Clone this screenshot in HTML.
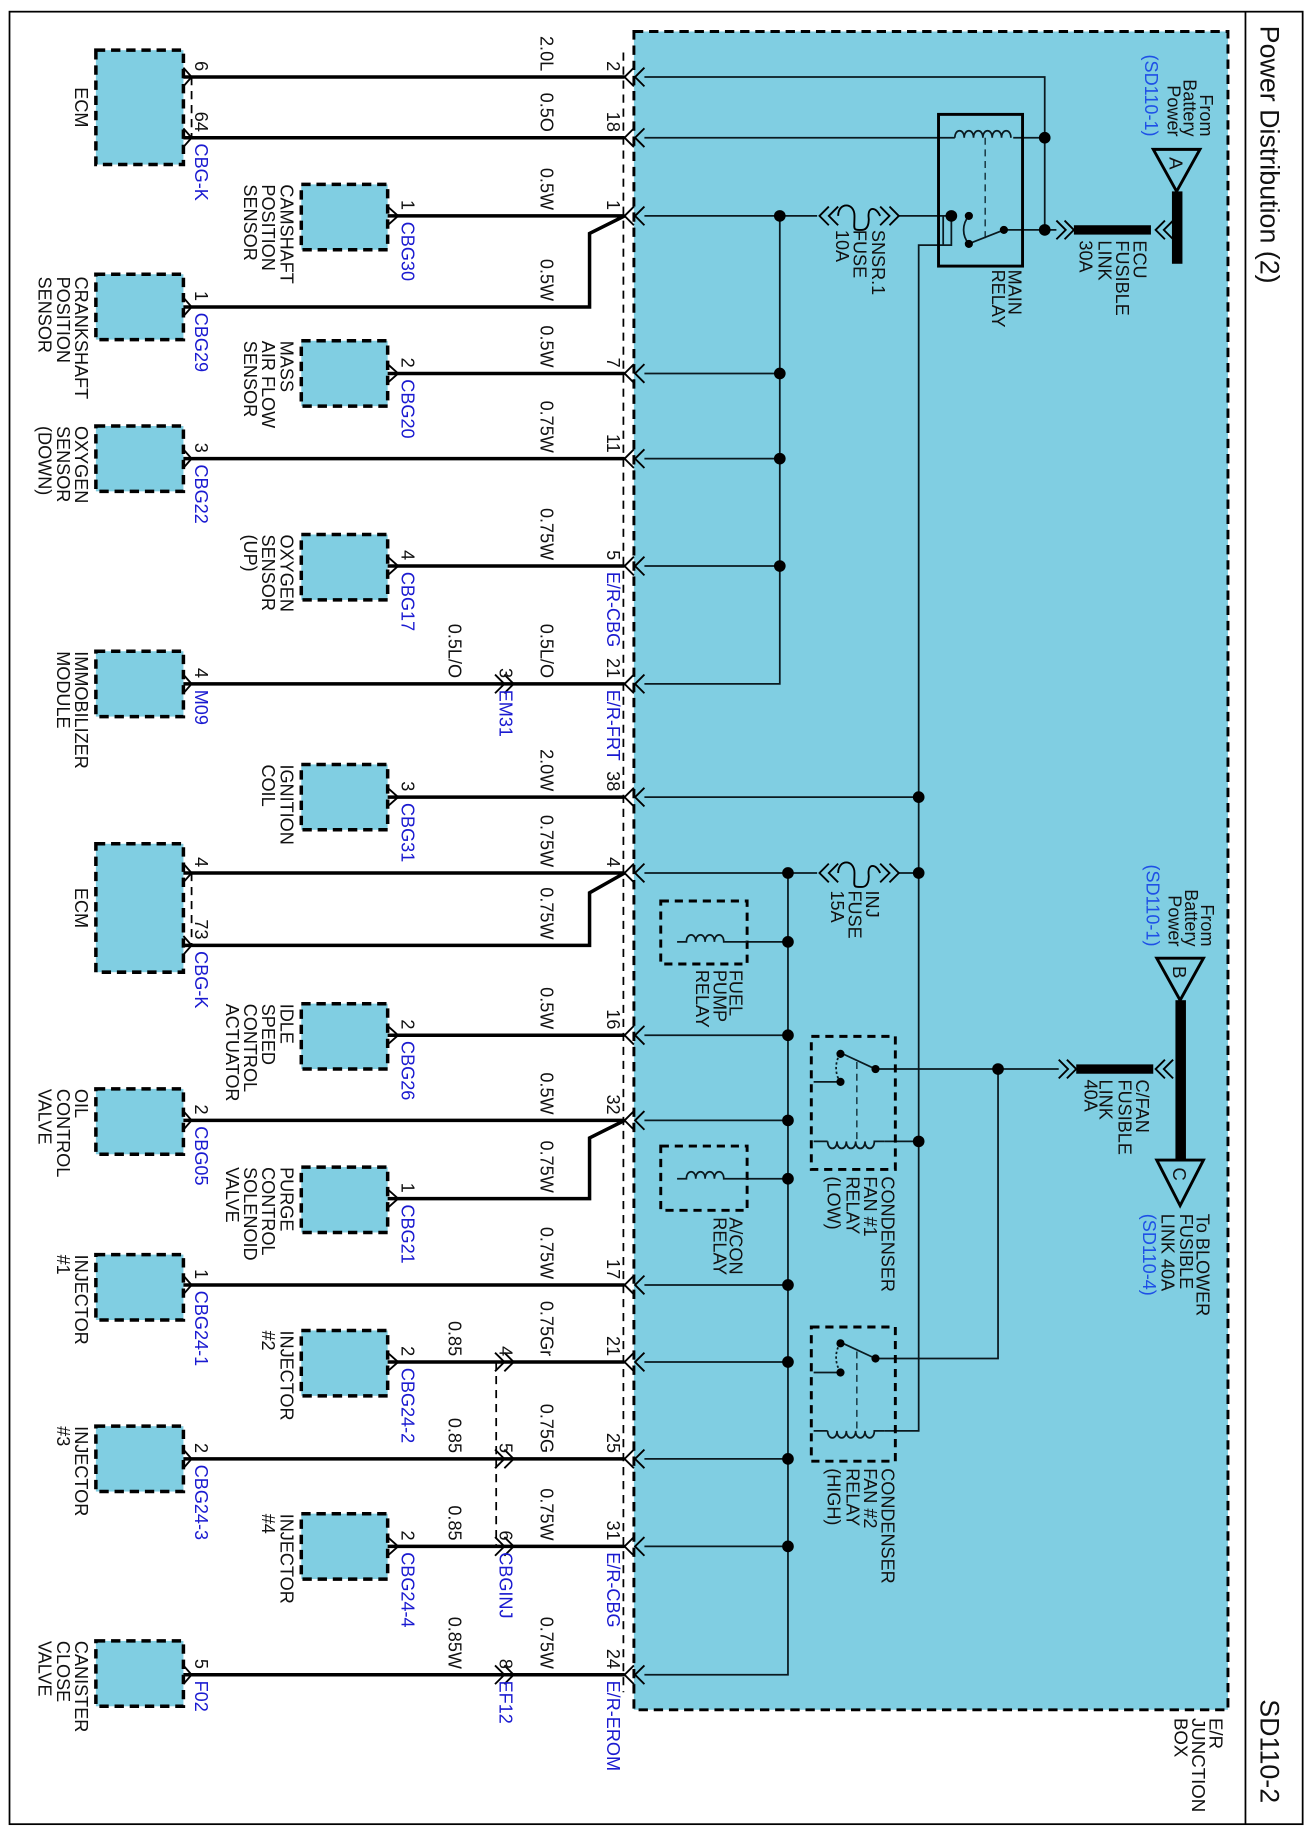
<!DOCTYPE html>
<html><head><meta charset="utf-8"><style>
html,body{margin:0;padding:0;background:#fff}
svg{display:block}
text{font-family:"Liberation Sans",Arial,sans-serif;font-size:15.5px;fill:#111}
.b{fill:#1a1ad0}
.lb{fill:#1e50e6}
.e{text-anchor:end}
.L{font-size:16px}
.w{stroke:#000;stroke-width:3;fill:none}
.n{stroke:#0a1a20;stroke-width:1.5;fill:none}
.db{fill:#80cee2;stroke:#000;stroke-width:3;stroke-dasharray:8 5}
.dr{fill:none;stroke:#000;stroke-width:2.5;stroke-dasharray:7 5}
.ch{stroke:#000;stroke-width:1.6;fill:none}
</style></head><body>
<svg width="1311" height="1830" viewBox="0 0 1123 1568" xmlns="http://www.w3.org/2000/svg">
<rect x="0" y="0" width="1123" height="1568" fill="#fff"/>
<!-- frame -->
<rect x="8" y="10" width="1108" height="1553" fill="none" stroke="#000" stroke-width="1.5"/>
<line x1="1067" y1="10" x2="1067" y2="1563" stroke="#000" stroke-width="1.5"/>
<text transform="translate(1080 22) rotate(90)" style="font-size:23px">Power Distribution (2)</text>
<text transform="translate(1080 1545) rotate(90)" class="e" style="font-size:23px">SD110-2</text>

<!-- junction box -->
<rect x="543" y="27" width="509" height="1438" fill="#80cee2" stroke="#000" stroke-width="2.5" stroke-dasharray="8 5"/>
<text transform="translate(1036 1472) rotate(90)" class="L">E/R</text>
<text transform="translate(1021 1472) rotate(90)" class="L">JUNCTION</text>
<text transform="translate(1006 1472) rotate(90)" class="L">BOX</text>

<!-- housing dashed lines -->
<g stroke="#000" stroke-width="1.5" stroke-dasharray="7 5" fill="none">
<line x1="534" y1="45" x2="534" y2="1450"/>
<line x1="164" y1="66" x2="164" y2="118"/>
<line x1="164" y1="748" x2="164" y2="810"/>
<line x1="425" y1="1167" x2="425" y2="1325"/>
</g>

<!-- left boxes -->
<g class="db">
<rect x="82" y="43" width="75" height="98"/>
<rect x="82" y="235" width="75" height="56"/>
<rect x="82" y="365" width="75" height="56"/>
<rect x="82" y="558" width="75" height="56"/>
<rect x="82" y="723" width="75" height="110"/>
<rect x="82" y="933" width="75" height="56"/>
<rect x="82" y="1075" width="75" height="56"/>
<rect x="82" y="1222" width="75" height="56"/>
<rect x="82" y="1406" width="75" height="56"/>
<rect x="258" y="158" width="74" height="56"/>
<rect x="258" y="292" width="74" height="56"/>
<rect x="258" y="458" width="74" height="56"/>
<rect x="258" y="655" width="74" height="56"/>
<rect x="258" y="860" width="74" height="56"/>
<rect x="258" y="1000" width="74" height="56"/>
<rect x="258" y="1140" width="74" height="56"/>
<rect x="258" y="1297" width="74" height="56"/>
</g>

<!-- component labels -->
<g class="L">
<text transform="translate(64 92) rotate(90)" text-anchor="middle">ECM</text>
<text transform="translate(64 778) rotate(90)" text-anchor="middle">ECM</text>
<text transform="translate(240 158) rotate(90)">CAMSHAFT</text>
<text transform="translate(224.5 158) rotate(90)">POSITION</text>
<text transform="translate(209 158) rotate(90)">SENSOR</text>
<text transform="translate(64 237) rotate(90)">CRANKSHAFT</text>
<text transform="translate(48.5 237) rotate(90)">POSITION</text>
<text transform="translate(33 237) rotate(90)">SENSOR</text>
<text transform="translate(240 292) rotate(90)">MASS</text>
<text transform="translate(224.5 292) rotate(90)">AIR FLOW</text>
<text transform="translate(209 292) rotate(90)">SENSOR</text>
<text transform="translate(64 365) rotate(90)">OXYGEN</text>
<text transform="translate(48.5 365) rotate(90)">SENSOR</text>
<text transform="translate(33 365) rotate(90)">(DOWN)</text>
<text transform="translate(240 458) rotate(90)">OXYGEN</text>
<text transform="translate(224.5 458) rotate(90)">SENSOR</text>
<text transform="translate(209 458) rotate(90)">(UP)</text>
<text transform="translate(64 558) rotate(90)">IMMOBILIZER</text>
<text transform="translate(48.5 558) rotate(90)">MODULE</text>
<text transform="translate(240 655) rotate(90)">IGNITION</text>
<text transform="translate(224.5 655) rotate(90)">COIL</text>
<text transform="translate(240 860) rotate(90)">IDLE</text>
<text transform="translate(224.5 860) rotate(90)">SPEED</text>
<text transform="translate(209 860) rotate(90)">CONTROL</text>
<text transform="translate(193.5 860) rotate(90)">ACTUATOR</text>
<text transform="translate(64 933) rotate(90)">OIL</text>
<text transform="translate(48.5 933) rotate(90)">CONTROL</text>
<text transform="translate(33 933) rotate(90)">VALVE</text>
<text transform="translate(240 1000) rotate(90)">PURGE</text>
<text transform="translate(224.5 1000) rotate(90)">CONTROL</text>
<text transform="translate(209 1000) rotate(90)">SOLENOID</text>
<text transform="translate(193.5 1000) rotate(90)">VALVE</text>
<text transform="translate(64 1075) rotate(90)">INJECTOR</text>
<text transform="translate(48.5 1075) rotate(90)">#1</text>
<text transform="translate(240 1140) rotate(90)">INJECTOR</text>
<text transform="translate(224.5 1140) rotate(90)">#2</text>
<text transform="translate(64 1222) rotate(90)">INJECTOR</text>
<text transform="translate(48.5 1222) rotate(90)">#3</text>
<text transform="translate(240 1297) rotate(90)">INJECTOR</text>
<text transform="translate(224.5 1297) rotate(90)">#4</text>
<text transform="translate(64 1406) rotate(90)">CANISTER</text>
<text transform="translate(48.5 1406) rotate(90)">CLOSE</text>
<text transform="translate(33 1406) rotate(90)">VALVE</text>
</g>

<!-- external wires -->
<g class="w">
<path d="M157 66H535M157 118H535M332 185H535M157 263H505V200L535 185M332 320H535M157 393H535M332 485H535M157 586H535M332 683H535M157 748H535M157 810H505V765L535 748M332 887H535M157 960H535M332 1027H505V975L535 960M157 1101H535M332 1167H535M157 1250H535M332 1325H535M157 1435H535"/>
</g>
<!-- chevrons -->
<g class="ch">
<path d="M157 58L164 66L157 74M157 110L164 118L157 126M157 255L164 263L157 271M157 385L164 393L157 401M157 578L164 586L157 594M157 740L164 748L157 756M157 802L164 810L157 818M157 952L164 960L157 968M157 1093L164 1101L157 1109M157 1242L164 1250L157 1258M157 1427L164 1435L157 1443"/>
<path d="M332 177L341 185L332 193M332 312L341 320L332 328M332 477L341 485L332 493M332 675L341 683L332 691M332 879L341 887L332 895M332 1019L341 1027L332 1035M332 1159L341 1167L332 1175M332 1317L341 1325L332 1333"/>
<path d="M424 578L432 586L424 594M432 578L440 586L432 594M424 1159L432 1167L424 1175M432 1159L440 1167L432 1175M424 1242L432 1250L424 1258M432 1242L440 1250L432 1258M424 1317L432 1325L424 1333M432 1317L440 1325L432 1333M424 1427L432 1435L424 1443M432 1427L440 1435L432 1443"/>
</g>
<g class="ch">
<path id="jc" d="M543 58L535 66L543 74M552 58L544 66L552 74"/>
<use href="#jc" y="52"/><use href="#jc" y="119"/><use href="#jc" y="254"/><use href="#jc" y="327"/><use href="#jc" y="419"/><use href="#jc" y="520"/><use href="#jc" y="617"/><use href="#jc" y="682"/><use href="#jc" y="821"/><use href="#jc" y="894"/><use href="#jc" y="1035"/><use href="#jc" y="1101"/><use href="#jc" y="1184"/><use href="#jc" y="1259"/><use href="#jc" y="1369"/>
</g>

<!-- pin numbers / connectors left boxes -->
<g>
<text class="e" transform="translate(167 61) rotate(90)">6</text>
<text class="e" transform="translate(167 113) rotate(90)">64</text>
<text class="b" transform="translate(167 123) rotate(90)">CBG-K</text>
<text class="e" transform="translate(167 258) rotate(90)">1</text>
<text class="b" transform="translate(167 268) rotate(90)">CBG29</text>
<text class="e" transform="translate(167 388) rotate(90)">3</text>
<text class="b" transform="translate(167 398) rotate(90)">CBG22</text>
<text class="e" transform="translate(167 581) rotate(90)">4</text>
<text class="b" transform="translate(167 591) rotate(90)">M09</text>
<text class="e" transform="translate(167 743) rotate(90)">4</text>
<text class="e" transform="translate(167 805) rotate(90)">73</text>
<text class="b" transform="translate(167 815) rotate(90)">CBG-K</text>
<text class="e" transform="translate(167 955) rotate(90)">2</text>
<text class="b" transform="translate(167 965) rotate(90)">CBG05</text>
<text class="e" transform="translate(167 1096) rotate(90)">1</text>
<text class="b" transform="translate(167 1106) rotate(90)">CBG24-1</text>
<text class="e" transform="translate(167 1245) rotate(90)">2</text>
<text class="b" transform="translate(167 1255) rotate(90)">CBG24-3</text>
<text class="e" transform="translate(167 1430) rotate(90)">5</text>
<text class="b" transform="translate(167 1440) rotate(90)">F02</text>

<text class="e" transform="translate(344 180) rotate(90)">1</text>
<text class="b" transform="translate(344 190) rotate(90)">CBG30</text>
<text class="e" transform="translate(344 315) rotate(90)">2</text>
<text class="b" transform="translate(344 325) rotate(90)">CBG20</text>
<text class="e" transform="translate(344 480) rotate(90)">4</text>
<text class="b" transform="translate(344 490) rotate(90)">CBG17</text>
<text class="e" transform="translate(344 678) rotate(90)">3</text>
<text class="b" transform="translate(344 688) rotate(90)">CBG31</text>
<text class="e" transform="translate(344 882) rotate(90)">2</text>
<text class="b" transform="translate(344 892) rotate(90)">CBG26</text>
<text class="e" transform="translate(344 1022) rotate(90)">1</text>
<text class="b" transform="translate(344 1032) rotate(90)">CBG21</text>
<text class="e" transform="translate(344 1162) rotate(90)">2</text>
<text class="b" transform="translate(344 1172) rotate(90)">CBG24-2</text>
<text class="e" transform="translate(344 1320) rotate(90)">2</text>
<text class="b" transform="translate(344 1330) rotate(90)">CBG24-4</text>

<!-- gauges -->
<text class="e" transform="translate(463 61) rotate(90)">2.0L</text>
<text class="e" transform="translate(463 113) rotate(90)">0.5O</text>
<text class="e" transform="translate(463 180) rotate(90)">0.5W</text>
<text class="e" transform="translate(463 258) rotate(90)">0.5W</text>
<text class="e" transform="translate(463 315) rotate(90)">0.5W</text>
<text class="e" transform="translate(463 388) rotate(90)">0.75W</text>
<text class="e" transform="translate(463 480) rotate(90)">0.75W</text>
<text class="e" transform="translate(463 581) rotate(90)">0.5L/O</text>
<text class="e" transform="translate(463 678) rotate(90)">2.0W</text>
<text class="e" transform="translate(463 743) rotate(90)">0.75W</text>
<text class="e" transform="translate(463 805) rotate(90)">0.75W</text>
<text class="e" transform="translate(463 882) rotate(90)">0.5W</text>
<text class="e" transform="translate(463 955) rotate(90)">0.5W</text>
<text class="e" transform="translate(463 1022) rotate(90)">0.75W</text>
<text class="e" transform="translate(463 1096) rotate(90)">0.75W</text>
<text class="e" transform="translate(463 1162) rotate(90)">0.75Gr</text>
<text class="e" transform="translate(463 1245) rotate(90)">0.75G</text>
<text class="e" transform="translate(463 1320) rotate(90)">0.75W</text>
<text class="e" transform="translate(463 1430) rotate(90)">0.75W</text>
<text class="e" transform="translate(384 581) rotate(90)">0.5L/O</text>
<text class="e" transform="translate(384 1162) rotate(90)">0.85</text>
<text class="e" transform="translate(384 1245) rotate(90)">0.85</text>
<text class="e" transform="translate(384 1320) rotate(90)">0.85</text>
<text class="e" transform="translate(384 1430) rotate(90)">0.85W</text>
<!-- inline -->
<text class="e" transform="translate(428 581) rotate(90)">3</text>
<text class="b" transform="translate(428 591) rotate(90)">EM31</text>
<text class="e" transform="translate(428 1162) rotate(90)">4</text>
<text class="e" transform="translate(428 1245) rotate(90)">5</text>
<text class="e" transform="translate(428 1320) rotate(90)">6</text>
<text class="b" transform="translate(428 1330) rotate(90)">CBGINJ</text>
<text class="e" transform="translate(428 1430) rotate(90)">8</text>
<text class="b" transform="translate(428 1440) rotate(90)">EF12</text>
<!-- junction pins -->
<text class="e" transform="translate(520 61) rotate(90)">2</text>
<text class="e" transform="translate(520 113) rotate(90)">18</text>
<text class="e" transform="translate(520 180) rotate(90)">1</text>
<text class="e" transform="translate(520 315) rotate(90)">7</text>
<text class="e" transform="translate(520 388) rotate(90)">11</text>
<text class="e" transform="translate(520 480) rotate(90)">5</text>
<text class="b" transform="translate(520 490) rotate(90)">E/R-CBG</text>
<text class="e" transform="translate(520 581) rotate(90)">21</text>
<text class="b" transform="translate(520 591) rotate(90)">E/R-FRT</text>
<text class="e" transform="translate(520 678) rotate(90)">38</text>
<text class="e" transform="translate(520 743) rotate(90)">4</text>
<text class="e" transform="translate(520 882) rotate(90)">16</text>
<text class="e" transform="translate(520 955) rotate(90)">32</text>
<text class="e" transform="translate(520 1096) rotate(90)">17</text>
<text class="e" transform="translate(520 1162) rotate(90)">21</text>
<text class="e" transform="translate(520 1245) rotate(90)">25</text>
<text class="e" transform="translate(520 1320) rotate(90)">31</text>
<text class="b" transform="translate(520 1330) rotate(90)">E/R-CBG</text>
<text class="e" transform="translate(520 1430) rotate(90)">24</text>
<text class="b" transform="translate(520 1440) rotate(90)">E/R-EROM</text>
</g>

<!-- internal wiring -->
<g class="n">
<path d="M552 66H895V197M552 118H818M868 118H895"/>
<path d="M552 185H700M770 185H815M552 320H668M552 393H668M552 485H668M552 586H668V185"/>
<path d="M815 185V210H787V1226H758"/>
<path d="M552 683H787M552 748H700M770 748H787M675 748V1435H552"/>
<path d="M552 887H675M552 960H675M552 1101H675M552 1167H675M552 1250H675M552 1325H675"/>
<path d="M640 807H675M640 1010H675"/>
<path d="M860 197H905M750 916H907M855 916V1164H750M758 978H787M697 927H720M697 1176H720M697 978H709M697 1226H709"/>
<path d="M808 210V185"/>
</g>
<!-- fuses -->
<g class="ch">
<path d="M710 177L702 185L710 193M718 177L710 185L718 193M762 177L770 185L762 193M754 177L762 185L754 193"/>
<path d="M718 185c0-12 14-12 14 0s-2 12 6 12 6-12 6-12c0-8 6-8 10 0"/>
<path d="M710 740L702 748L710 756M718 740L710 748L718 756M762 740L770 748L762 756M754 740L762 748L754 756"/>
<path d="M718 748c0-12 14-12 14 0s-2 12 6 12 6-12 6-12c0-8 6-8 10 0"/>
<path d="M905 189L913 197L905 205M912 189L920 197L912 205M998 189L990 197L998 205M1005 189L997 197L1005 205"/>
<path d="M907 908L915 916L907 924M914 908L922 916L914 924M998 908L990 916L998 924M1005 908L997 916L1005 924"/>
</g>
<!-- fusible links -->
<g fill="#000">
<rect x="920" y="193" width="66" height="8"/>
<rect x="922" y="912" width="66" height="8"/>
<rect x="1004" y="164" width="9" height="62"/>
<rect x="1007" y="857" width="9" height="138"/>
</g>
<g fill="none" stroke="#000" stroke-width="2.5">
<path d="M988 128H1028L1008 164Z"/>
<path d="M991 821H1031L1011 857Z"/>
<path d="M991 994H1031L1011 1033Z"/>
</g>
<text transform="translate(1002 140) rotate(90)" text-anchor="middle" class="L">A</text>
<text transform="translate(1005 833) rotate(90)" text-anchor="middle" class="L">B</text>
<text transform="translate(1005 1006) rotate(90)" text-anchor="middle" class="L">C</text>
<g class="L">
<text class="e" transform="translate(1028 117) rotate(90)">From</text>
<text class="e" transform="translate(1014 117) rotate(90)">Battery</text>
<text class="e" transform="translate(1000 117) rotate(90)">Power</text>
<text class="e lb" transform="translate(981 117) rotate(90)">(SD110-1)</text>
<text class="e" transform="translate(1029 811) rotate(90)">From</text>
<text class="e" transform="translate(1015 811) rotate(90)">Battery</text>
<text class="e" transform="translate(1001 811) rotate(90)">Power</text>
<text class="e lb" transform="translate(982 811) rotate(90)">(SD110-1)</text>
<text transform="translate(1025 1040) rotate(90)">To BLOWER</text>
<text transform="translate(1011 1040) rotate(90)">FUSIBLE</text>
<text transform="translate(995 1040) rotate(90)">LINK 40A</text>
<text class="lb" transform="translate(979 1040) rotate(90)">(SD110-4)</text>
<text transform="translate(971 206) rotate(90)">ECU</text>
<text transform="translate(956 206) rotate(90)">FUSIBLE</text>
<text transform="translate(941 206) rotate(90)">LINK</text>
<text transform="translate(925 206) rotate(90)">30A</text>
<text transform="translate(973 925) rotate(90)">C/FAN</text>
<text transform="translate(958 925) rotate(90)">FUSIBLE</text>
<text transform="translate(942 925) rotate(90)">LINK</text>
<text transform="translate(929 925) rotate(90)">40A</text>
<text transform="translate(747 197) rotate(90)">SNSR.1</text>
<text transform="translate(731 197) rotate(90)">FUSE</text>
<text transform="translate(716 197) rotate(90)">10A</text>
<text transform="translate(742 763) rotate(90)">INJ</text>
<text transform="translate(727 763) rotate(90)">FUSE</text>
<text transform="translate(712 763) rotate(90)">15A</text>
<text transform="translate(864 231) rotate(90)">MAIN</text>
<text transform="translate(850 231) rotate(90)">RELAY</text>
<text transform="translate(625 831) rotate(90)">FUEL</text>
<text transform="translate(611 831) rotate(90)">PUMP</text>
<text transform="translate(596 831) rotate(90)">RELAY</text>
<text transform="translate(625 1043) rotate(90)">A/CON</text>
<text transform="translate(611 1043) rotate(90)">RELAY</text>
<text transform="translate(755 1008) rotate(90)">CONDENSER</text>
<text transform="translate(740 1008) rotate(90)">FAN #1</text>
<text transform="translate(725 1008) rotate(90)">RELAY</text>
<text transform="translate(709 1008) rotate(90)">(LOW)</text>
<text transform="translate(755 1258) rotate(90)">CONDENSER</text>
<text transform="translate(740 1258) rotate(90)">FAN #2</text>
<text transform="translate(725 1258) rotate(90)">RELAY</text>
<text transform="translate(709 1258) rotate(90)">(HIGH)</text>
</g>

<!-- main relay -->
<rect x="804" y="98" width="72" height="130" fill="none" stroke="#000" stroke-width="2.5"/>
<path d="M818 118c0-8 8-8 8 0c0-8 8-8 8 0c0-8 8-8 8 0c0-8 8-8 8 0c0-8 8-8 8 0c0-8 8-8 8 0" class="n" stroke-width="1.3"/>
<line x1="844" y1="118" x2="844" y2="205" stroke="#1a3a44" stroke-width="1.3" stroke-dasharray="6 4"/>
<path d="M860 197L832 208M830 185C824 192 824 202 830 209" class="n" stroke-width="1.2"/>
<!-- relay boxes -->
<rect x="566" y="772" width="74" height="54" class="dr"/>
<rect x="566" y="982" width="74" height="55" class="dr"/>
<rect x="695" y="888" width="72" height="114" class="dr"/>
<rect x="695" y="1137" width="72" height="115" class="dr"/>
<g class="n" stroke-width="1.3">
<path d="M580 807H588c0-8 8-8 8 0c0-8 8-8 8 0c0-8 8-8 8 0c0-8 8-8 8 0h20"/>
<path d="M580 1010H588c0-8 8-8 8 0c0-8 8-8 8 0c0-8 8-8 8 0c0-8 8-8 8 0h20"/>
<path d="M709 978c0 8 8 8 8 0c0 8 8 8 8 0c0 8 8 8 8 0c0 8 8 8 8 0c0 8 8 8 8 0h9"/>
<path d="M709 1226c0 8 8 8 8 0c0 8 8 8 8 0c0 8 8 8 8 0c0 8 8 8 8 0c0 8 8 8 8 0h9"/>
<path d="M750 916L722 903M750 1164L722 1151"/>
<path d="M720 903c-5 6-5 18 0 24M720 1151c-5 6-5 18 0 24" stroke-dasharray="2 2"/>
</g>
<g stroke="#1a3a44" stroke-width="1.3" stroke-dasharray="6 4">
<line x1="734" y1="910" x2="734" y2="978"/>
<line x1="734" y1="1158" x2="734" y2="1226"/>
</g>
<!-- dots -->
<g fill="#000">
<circle cx="895" cy="118" r="5"/><circle cx="895" cy="197" r="5"/>
<circle cx="815" cy="185" r="5"/><circle cx="830" cy="185" r="3.5"/><circle cx="830" cy="209" r="3.5"/><circle cx="860" cy="197" r="3.5"/>
<circle cx="668" cy="185" r="5"/><circle cx="668" cy="320" r="5"/><circle cx="668" cy="393" r="5"/><circle cx="668" cy="485" r="5"/>
<circle cx="787" cy="683" r="5"/><circle cx="787" cy="748" r="5"/><circle cx="787" cy="978" r="5"/>
<circle cx="675" cy="748" r="5"/><circle cx="675" cy="807" r="5"/><circle cx="675" cy="887" r="5"/><circle cx="675" cy="960" r="5"/><circle cx="675" cy="1010" r="5"/><circle cx="675" cy="1101" r="5"/><circle cx="675" cy="1167" r="5"/><circle cx="675" cy="1250" r="5"/><circle cx="675" cy="1325" r="5"/>
<circle cx="855" cy="916" r="5"/>
<circle cx="720" cy="903" r="3.5"/><circle cx="750" cy="916" r="3.5"/><circle cx="720" cy="927" r="3.5"/>
<circle cx="720" cy="1151" r="3.5"/><circle cx="750" cy="1164" r="3.5"/><circle cx="720" cy="1176" r="3.5"/>
</g>
</svg>
</body></html>
